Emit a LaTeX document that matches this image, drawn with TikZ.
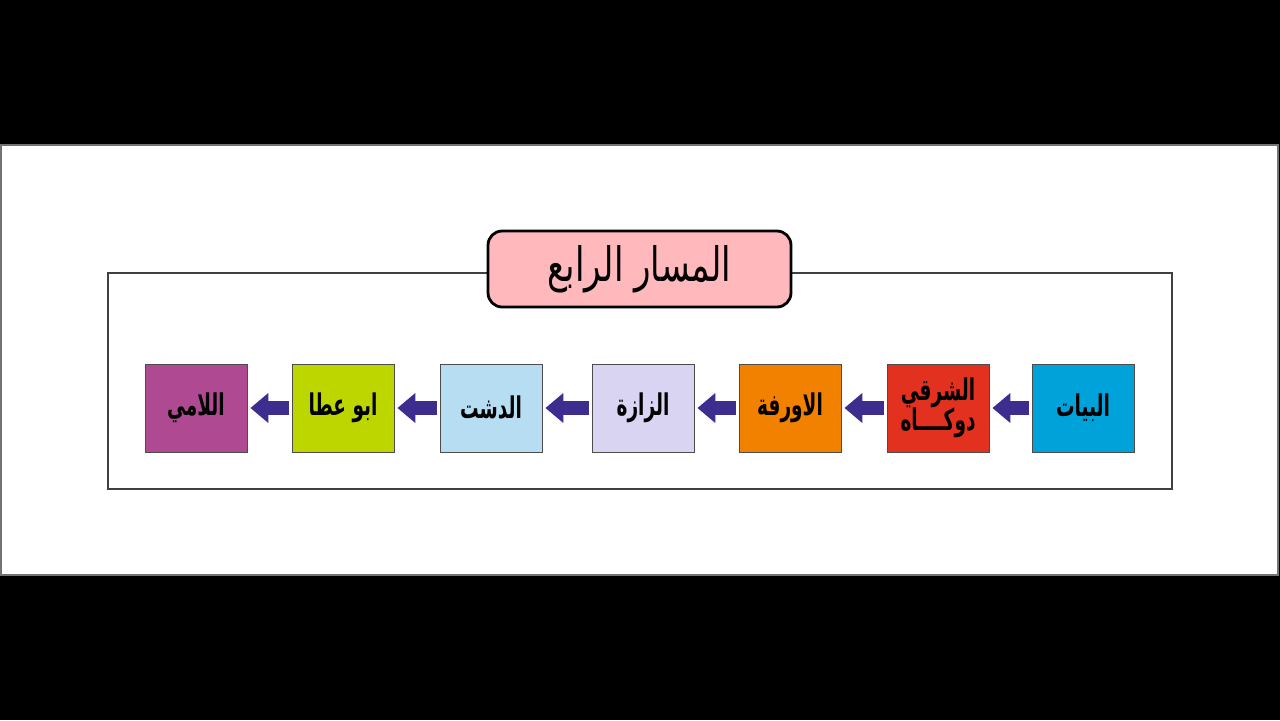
\documentclass[tikz,border=0pt]{standalone}
\usepackage{fontspec}
\usetikzlibrary{arrows.meta}
\newfontfamily\arabicfont[Script=Arabic,FakeStretch=0.62]{DejaVu Sans}
\newfontfamily\titlefont[Script=Arabic,FakeStretch=0.72]{DejaVu Sans}
\TeXXeTstate=1

\definecolor{bayatiblue}{HTML}{00A3D9}
\definecolor{sharqired}{HTML}{E2321F}
\definecolor{orfaorange}{HTML}{F28100}
\definecolor{zazalav}{HTML}{D8D4F2}
\definecolor{dashtblue}{HTML}{B6DDF2}
\definecolor{atagreen}{HTML}{BED600}
\definecolor{lamipurple}{HTML}{AF4A92}
\definecolor{arrowblue}{HTML}{3C2D8E}
\definecolor{titlepink}{HTML}{FFB9BC}

\tikzset{
  maqam/.style={draw=black!70, line width=0.5pt, minimum width=2.04cm,
    minimum height=1.76cm, inner sep=0pt, align=center,
    font=\arabicfont\bfseries\fontsize{17}{19}\selectfont},
  flow/.style={arrowblue, line width=0.28cm,
    -{Triangle[width=0.58cm,length=0.36cm]},
    shorten >=0.06cm, shorten <=0.06cm}
}

\begin{document}
\begin{tikzpicture}[x=0.02cm,y=-0.02cm]
  % Background and panel
  \fill[black] (0,0) rectangle (1280,720);
  \useasboundingbox (0,0) rectangle (1280,720);
  \fill[white] (1,145) rectangle (1278,575);
  \draw[black!55, line width=0.8pt] (1,145) rectangle (1278,575);

  % Outer frame
  \draw[black!75, line width=0.8pt] (108,273) rectangle (1172,489);

  % Title
  \node[draw=black, line width=1.6pt, fill=titlepink, rounded corners=8pt,
    minimum width=6.06cm, minimum height=1.52cm,
    font=\titlefont\fontsize{27}{30}\selectfont] (title) at (639.5,269)
    {\beginR المسار الرابع\endR};

  % Maqam boxes
  \node[maqam, fill=bayatiblue] (bayati) at (1083,408) {\beginR البيات\endR};
  \node[maqam, fill=sharqired] (sharqi) at (938,408)
    {\beginR الشرقي\endR\\[-2pt]\beginR دوكــــاه\endR};
  \node[maqam, fill=orfaorange] (orfa) at (790,408) {\beginR الاورفة\endR};
  \node[maqam, fill=zazalav] (zaza) at (643,408) {\beginR الزازة\endR};
  \node[maqam, fill=dashtblue] (dasht) at (491,408) {\beginR الدشت\endR};
  \node[maqam, fill=atagreen] (ata) at (343,408) {\beginR ابو عطا\endR};
  \node[maqam, fill=lamipurple] (lami) at (196,408) {\beginR اللامي\endR};

  % Path arrows
  \draw[flow] (bayati) -- (sharqi);
  \draw[flow] (sharqi) -- (orfa);
  \draw[flow] (orfa) -- (zaza);
  \draw[flow] (zaza) -- (dasht);
  \draw[flow] (dasht) -- (ata);
  \draw[flow] (ata) -- (lami);
\end{tikzpicture}
\end{document}
